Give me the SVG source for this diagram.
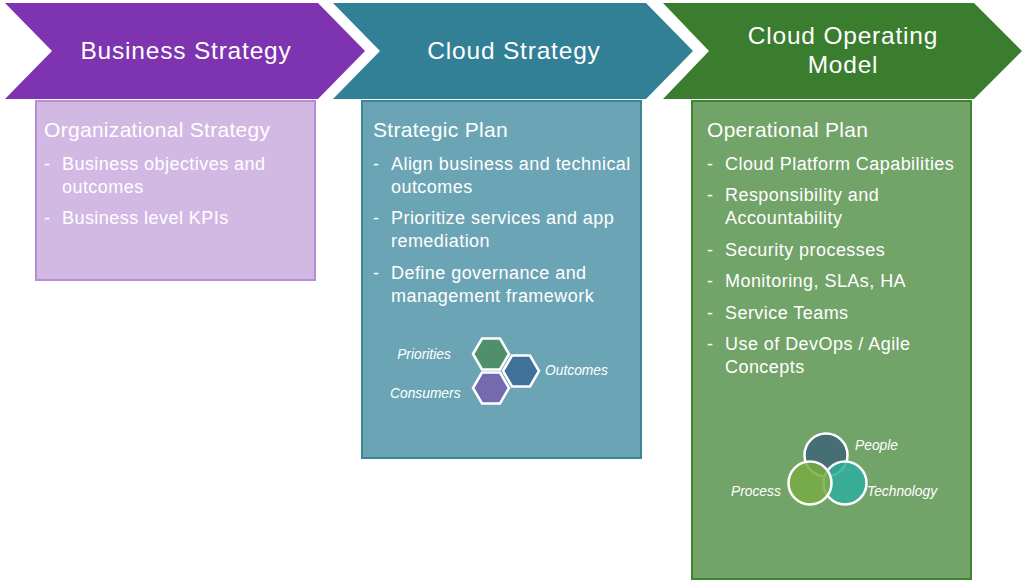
<svg xmlns="http://www.w3.org/2000/svg" width="1024" height="581" viewBox="0 0 1024 581">
<style>
.hdr{font-family:"Liberation Sans",Arial,sans-serif;font-size:24.5px;letter-spacing:0.8px;fill:#fff;text-anchor:middle}
.ttl{font-family:"Liberation Sans",Arial,sans-serif;font-size:21px;letter-spacing:0.3px;fill:#fff}
.bl{font-family:"Liberation Sans",Arial,sans-serif;font-size:18px;letter-spacing:0.45px;fill:#fff}
.lbl{font-family:"Liberation Sans",Arial,sans-serif;font-size:13.8px;font-style:italic;fill:#fff}
.hex{stroke:#fff;stroke-width:2.5}
.circ{stroke:#fff;stroke-width:2.5}
</style>
<rect width="1024" height="581" fill="#fff"/>
<g id="business-strategy">
<polygon points="5,3 318,3 365,51 318,99 5,99 52,51" fill="#7E33B0"/>
<text class="hdr" x="186" y="59">Business Strategy</text>
<rect x="36" y="101" width="279" height="179" fill="#D2B9E3" stroke="#B68ED2" stroke-width="2"/>
<text class="ttl" x="44" y="137">Organizational Strategy</text>
<text class="bl" x="44" y="170">-</text><text class="bl" x="62" y="170">Business objectives and</text>
<text class="bl" x="62" y="193">outcomes</text>
<text class="bl" x="44" y="224">-</text><text class="bl" x="62" y="224">Business level KPIs</text>
</g>
<g id="cloud-strategy">
<polygon points="333,3 646,3 693,51 646,99 333,99 380,51" fill="#318096"/>
<text class="hdr" x="514" y="59">Cloud Strategy</text>
<rect x="362" y="101" width="279" height="357" fill="#6BA5B5" stroke="#3A8697" stroke-width="2"/>
<text class="ttl" x="373" y="137">Strategic Plan</text>
<text class="bl" x="373" y="170">-</text><text class="bl" x="391" y="170">Align business and technical</text>
<text class="bl" x="391" y="193">outcomes</text>
<text class="bl" x="373" y="224">-</text><text class="bl" x="391" y="224">Prioritize services and app</text>
<text class="bl" x="391" y="247">remediation</text>
<text class="bl" x="373" y="279">-</text><text class="bl" x="391" y="279">Define governance and</text>
<text class="bl" x="391" y="302">management framework</text>
<polygon class="hex" points="473,354 482,338.5 500,338.5 509,354 500,369.5 482,369.5" fill="#4F8F6B"/>
<polygon class="hex" points="503,371 512,355.5 530,355.5 539,371 530,386.5 512,386.5" fill="#3F7199"/>
<polygon class="hex" points="473,388 482,372.5 500,372.5 509,388 500,403.5 482,403.5" fill="#7569B0"/>
<text class="lbl" x="424" y="359" text-anchor="middle">Priorities</text>
<text class="lbl" x="545" y="375">Outcomes</text>
<text class="lbl" x="390" y="398">Consumers</text>
</g>
<g id="cloud-operating-model">
<polygon points="663,3 974,3 1022,51 974,99 663,99 709,51" fill="#3A7D2F"/>
<text class="hdr" x="843" y="44">Cloud Operating</text>
<text class="hdr" x="843" y="72.5">Model</text>
<rect x="692" y="101" width="279" height="478" fill="#72A368" stroke="#418235" stroke-width="2"/>
<text class="ttl" x="707" y="137">Operational Plan</text>
<text class="bl" x="707" y="170">-</text><text class="bl" x="725" y="170">Cloud Platform Capabilities</text>
<text class="bl" x="707" y="201">-</text><text class="bl" x="725" y="201">Responsibility and</text>
<text class="bl" x="725" y="224">Accountability</text>
<text class="bl" x="707" y="256">-</text><text class="bl" x="725" y="256">Security processes</text>
<text class="bl" x="707" y="287">-</text><text class="bl" x="725" y="287">Monitoring, SLAs, HA</text>
<text class="bl" x="707" y="319">-</text><text class="bl" x="725" y="319">Service Teams</text>
<text class="bl" x="707" y="350">-</text><text class="bl" x="725" y="350">Use of DevOps / Agile</text>
<text class="bl" x="725" y="373">Concepts</text>
<circle class="circ" cx="826" cy="455" r="21.5" fill="#456F75"/>
<circle class="circ" cx="845" cy="483" r="21.5" fill="#2EAE9E" fill-opacity="0.85"/>
<circle class="circ" cx="810" cy="483" r="21.5" fill="#78AC43" fill-opacity="0.85"/>
<text class="lbl" x="855" y="450">People</text>
<text class="lbl" x="731" y="496">Process</text>
<text class="lbl" x="867" y="496">Technology</text>
</g>
<g id="connectors"/>
</svg>
